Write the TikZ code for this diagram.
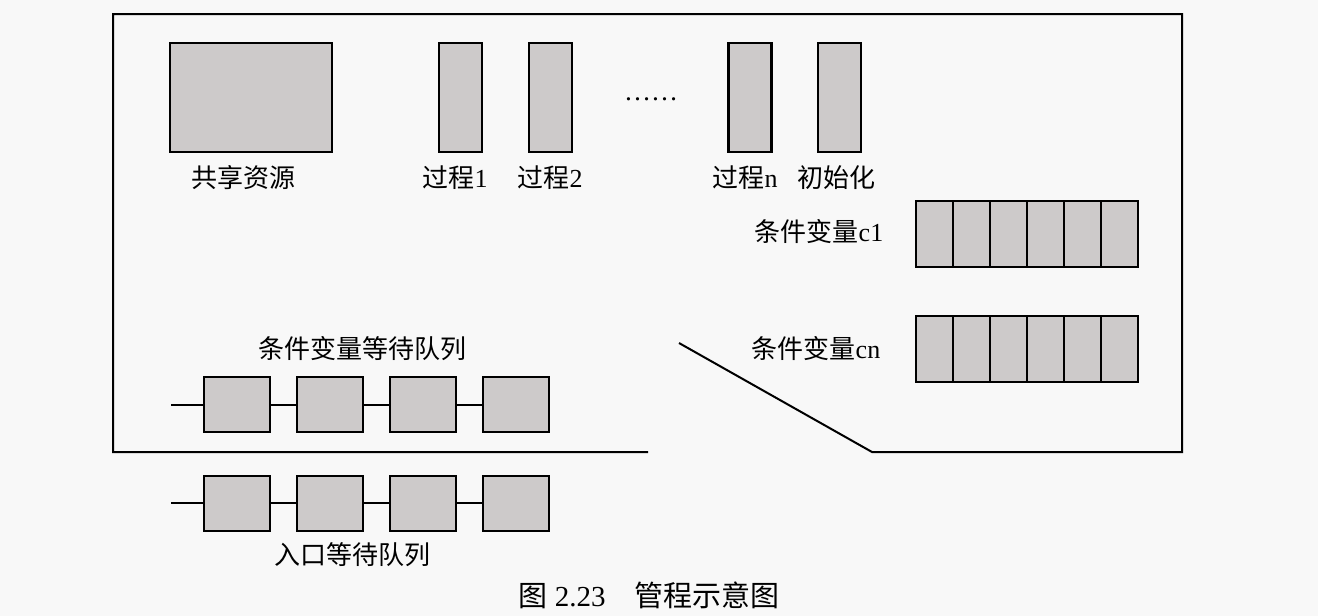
\documentclass[tikz,border=0pt]{standalone}
\usepackage{fontspec}
\setmainfont{Liberation Serif}
\newfontfamily\cjk{Noto Sans CJK SC}
\definecolor{boxgray}{RGB}{205,202,202}
\definecolor{bggray}{RGB}{248,248,248}
\begin{document}
\begin{tikzpicture}[x=1pt,y=-1pt,
  blk/.style={draw=black, line width=2.4pt, fill=boxgray, inner sep=0pt},
  tall/.style={blk, minimum width=43pt, minimum height=109pt},
  cell/.style={blk, line width=2pt, minimum width=37pt, minimum height=66pt},
  qbox/.style={blk, line width=2pt, minimum width=66pt, minimum height=55pt},
  lbl/.style={inner sep=0pt, font=\fontsize{26}{26}\selectfont},
  frame/.style={draw=black, line width=2pt},
  link/.style={draw=black, line width=2pt}
]
\useasboundingbox (0,0) rectangle (1318,616);
\fill[bggray] (0,0) rectangle (1318,616);

% monitor frame
\coordinate (f1) at (648,452);
\coordinate (f2) at (113,452);
\coordinate (f3) at (113,14);
\coordinate (f4) at (1182,14);
\coordinate (f5) at (1182,452);
\coordinate (f6) at (872,452);
\coordinate (f7) at (679,343);
\draw[frame, line join=miter] (f1) -- (f2) -- (f3) -- (f4) -- (f5) -- (f6) -- (f7);

% shared resource and procedures
\node[blk, minimum width=162pt, minimum height=109pt] (shared) at (251,97.5) {};
\node[tall] (p1) at (460.5,97.5) {};
\node[tall] (p2) at (550.5,97.5) {};
\node[tall] (pn) at (750,97.5) {};
\node[tall] (init) at (839.5,97.5) {};
\node[lbl] (dots) at (651,99) {\fontsize{27}{27}\selectfont ……};

\node[lbl] (lshared) at (243,178) {\cjk 共享资源};
\node[lbl] (lp1) at (455,178) {{\cjk 过程}1};
\node[lbl] (lp2) at (550,178) {{\cjk 过程}2};
\node[lbl] (lpn) at (745,178) {{\cjk 过程}n};
\node[lbl] (linit) at (836,178) {\cjk 初始化};

% condition variable queues
\foreach \i in {0,...,5} {
  \node[cell] (c1\i) at ({934.5+37*\i},234) {};
  \node[cell] (cn\i) at ({934.5+37*\i},349) {};
}
\node[lbl] (lc1) at (819,232) {{\cjk 条件变量}c1};
\node[lbl] (lcn) at (816,349) {{\cjk 条件变量}cn};

% condition variable waiting queue
\node[lbl] (lcq) at (362,349) {\cjk 条件变量等待队列};
\coordinate (qa) at (171,404.5);
\foreach \i in {0,...,3} {
  \node[qbox] (q\i) at ({237+93*\i},404.5) {};
}
\draw[link] (qa) -- (q0.west);
\draw[link] (q0.east) -- (q1.west);
\draw[link] (q1.east) -- (q2.west);
\draw[link] (q2.east) -- (q3.west);

% entry waiting queue
\coordinate (ea) at (171,503);
\foreach \i in {0,...,3} {
  \node[qbox] (e\i) at ({237+93*\i},503) {};
}
\draw[link] (ea) -- (e0.west);
\draw[link] (e0.east) -- (e1.west);
\draw[link] (e1.east) -- (e2.west);
\draw[link] (e2.east) -- (e3.west);
\node[lbl] (leq) at (352,555) {\cjk 入口等待队列};

% caption
\node[lbl, font=\fontsize{29}{29}\selectfont] (cap) at (649,595) {{\cjk 图} 2.23\hspace{1em}{\cjk 管程示意图}};
\end{tikzpicture}
\end{document}
